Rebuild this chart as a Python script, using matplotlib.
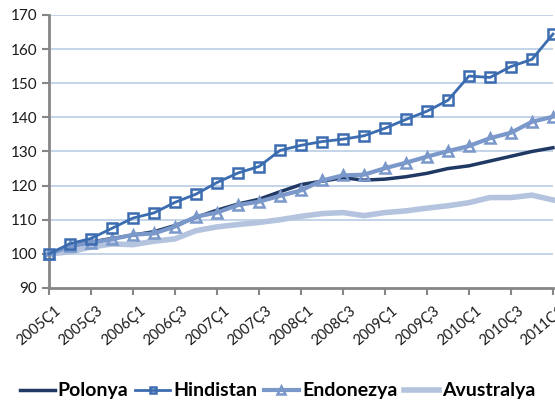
import numpy as np
import matplotlib
matplotlib.use("Agg")
import matplotlib.pyplot as plt
import matplotlib.transforms as mtransforms

# quarters 2005Ç1 .. 2011Ç1
quarters = ["{}Ç{}".format(y, q) for y in range(2005, 2012) for q in range(1, 5)][:25]

polonya = [100, 102.5, 103.5, 104.5, 105.5, 106.5, 108.3, 110.7, 112.8, 114.6, 116, 118.2, 120.3,
           121.3, 122.3, 121.6, 121.9, 122.6, 123.6, 125, 125.8, 127.2, 128.6, 130, 131.1]
hindistan = [100, 103, 104.5, 107.5, 110.5, 112, 115.1, 117.5, 120.9, 123.7, 125.6, 130.3, 131.8,
             132.9, 133.6, 134.6, 136.8, 139.4, 141.8, 145, 152.1, 151.7, 154.9, 157, 164.4]
endonezya = [100, 102.2, 103.3, 104.3, 105.6, 106, 108, 110.9, 112.1, 114.3, 115.3, 117, 118.6,
             121.5, 123, 123.2, 125.1, 126.7, 128.5, 130.1, 131.6, 133.9, 135.5, 138.7, 140.2]
avustralya = [100, 100.6, 102, 102.9, 102.7, 103.7, 104.4, 106.8, 107.9, 108.6, 109.2, 110, 111,
              111.8, 112.1, 111.2, 112.1, 112.6, 113.4, 114.1, 115, 116.5, 116.5, 117.2, 115.8]

plt.rcParams['font.family'] = ['Lato', 'DejaVu Sans']

fig = plt.figure(figsize=(5.55, 4.03), dpi=100)
ax = fig.add_axes([0.0883, 0.2854, 0.908, 0.6774])

x = np.arange(len(quarters))

# horizontal gridlines
for v in range(100, 171, 10):
    ax.axhline(v, color="#B9CDE5", lw=1.2, zorder=0)

ax.plot(x, avustralya, color="#B4C4DE", lw=4, label="Avustralya", zorder=2, clip_on=False)
ax.plot(x, polonya, color="#1F3864", lw=2.5, label="Polonya", zorder=3, clip_on=False)
ax.plot(x, endonezya, color="#7A98CA", lw=3, marker="^", markersize=7.5, markerfacecolor="none",
        markeredgewidth=1.8, label="Endonezya", zorder=4, clip_on=False)
ax.plot(x, hindistan, color="#3C6CB0", lw=2, marker="s", markersize=7, markerfacecolor="none",
        markeredgewidth=1.8, label="Hindistan", zorder=5, clip_on=False)

ax.set_xlim(0, len(quarters) - 1)
ax.set_ylim(90, 170)
ax.set_yticks(range(90, 171, 10))
ax.set_xticks(x[::2])
ax.set_xticklabels(quarters[::2], rotation=40, ha="right", rotation_mode="anchor", fontsize=10.5)
ax.tick_params(axis="y", labelsize=11, color="#868686", length=5, width=1.5, direction="out",
               labelcolor="#1a1a1a")
ax.tick_params(axis="x", color="#868686", length=5, width=1.5, direction="out", labelcolor="#1a1a1a",
               pad=6)

# shift x labels a bit to the right, like the original
offset = mtransforms.ScaledTranslation(6 / 100, 0, fig.dpi_scale_trans)
for lbl in ax.get_xticklabels():
    lbl.set_transform(lbl.get_transform() + offset)

for s in ["top", "right"]:
    ax.spines[s].set_visible(False)
for s in ["left", "bottom"]:
    ax.spines[s].set_color("#868686")
    ax.spines[s].set_linewidth(2)

handles, labels = ax.get_legend_handles_labels()
order = ["Polonya", "Hindistan", "Endonezya", "Avustralya"]
h = [handles[labels.index(n)] for n in order]
leg = fig.legend(h, order, loc="center", bbox_to_anchor=(0.5, 0.03), ncol=4, frameon=False,
                 prop={"weight": "bold", "size": 14}, handlelength=1.8, handletextpad=0.15,
                 columnspacing=0.35, markerscale=0.7)

fig.savefig("out.png", dpi=100)
